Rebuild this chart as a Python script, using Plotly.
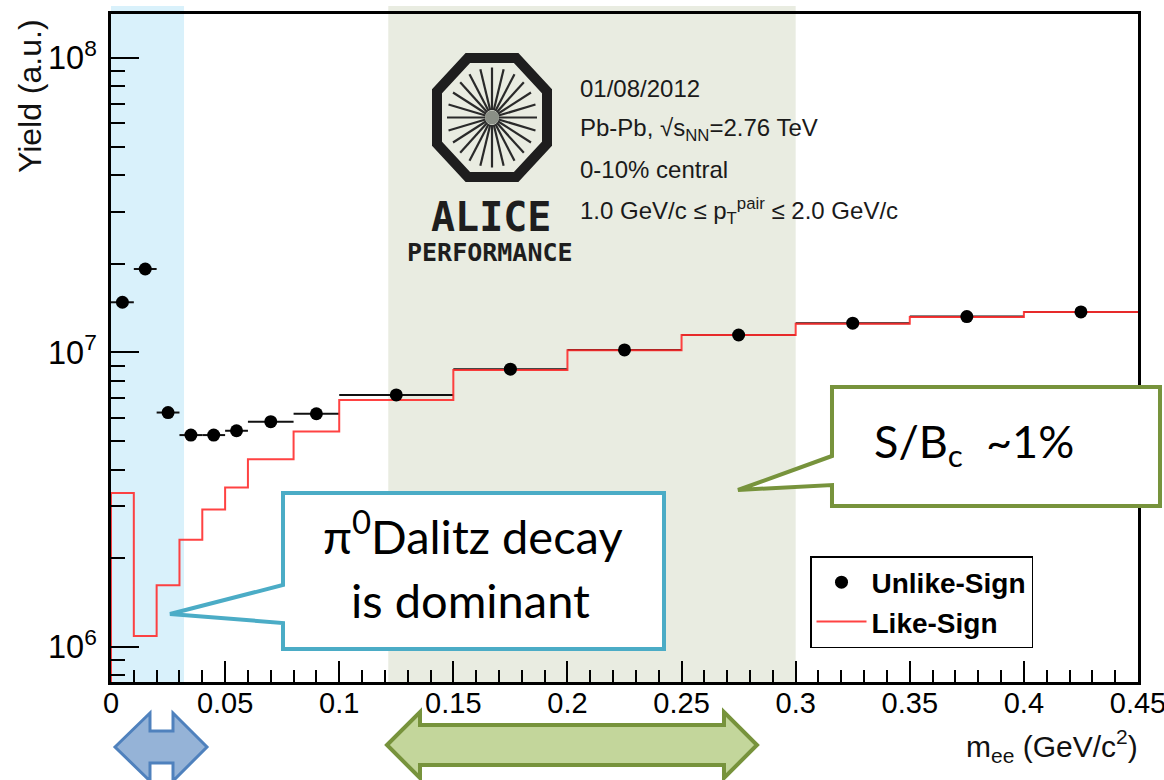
import math
import plotly.graph_objects as go

# ---- data -------------------------------------------------------------
bin_edges = [0, 0.01, 0.02, 0.03, 0.04, 0.05, 0.06, 0.08, 0.10,
             0.15, 0.20, 0.25, 0.30, 0.35, 0.40, 0.45]
like_sign = [3.33e6, 1.09e6, 1.62e6, 2.31e6, 2.93e6, 3.48e6, 4.34e6, 5.39e6,
             6.90e6, 8.72e6, 1.018e7, 1.146e7, 1.25e7, 1.32e7, 1.372e7]
unlike_sign = [1.48e7, 1.92e7, 6.25e6, 5.24e6, 5.24e6, 5.42e6, 5.82e6, 6.19e6,
               7.17e6, 8.77e6, 1.02e7, 1.146e7, 1.257e7, 1.323e7, 1.372e7]

y_log_range = [5.881, 8.149]
x_range = [0, 0.45]
x_tick_step = 0.05

info_lines = [
    "01/08/2012",
    "Pb-Pb, √s<sub>NN</sub>=2.76 TeV",
    "0-10% central",
    "1.0 GeV/c ≤ p<sub>T</sub><sup>pair</sup> ≤ 2.0 GeV/c",
]

# ---- canvas geometry --------------------------------------------------
W, H = 1164, 780
ML, MR, MT, MB = 111, 26, 14, 98
PW, PH = W - ML - MR, H - MT - MB


def px(xp):
    return (xp - ML) / PW


def py(yp):
    return (H - MB - yp) / PH


def poly(points):
    return "M " + " L ".join(f"{px(a):.5f},{py(b):.5f}" for a, b in points) + " Z"


centers = [(a + b) / 2 for a, b in zip(bin_edges[:-1], bin_edges[1:])]
half_w = [(b - a) / 2 for a, b in zip(bin_edges[:-1], bin_edges[1:])]
baseline = 10 ** y_log_range[0]

fig = go.Figure()

# horizontal bin-width bars of the unlike-sign points (drawn beneath the histogram)
fig.add_trace(go.Scatter(
    x=centers, y=unlike_sign, mode="markers",
    marker=dict(color="black", size=1, opacity=0),
    error_x=dict(type="data", array=half_w, color="#111", thickness=2, width=0),
    showlegend=False, hoverinfo="skip",
))

# Like-sign histogram as a step line (ROOT style, starting from the frame bottom)
fig.add_trace(go.Scatter(
    x=[bin_edges[0]] + bin_edges[:-1] + [bin_edges[-1]],
    y=[baseline] + like_sign + [like_sign[-1]],
    mode="lines", line=dict(color="rgba(255,45,45,0.9)", width=2, shape="hv"),
    name="Like-Sign",
))

# Unlike-sign points
fig.add_trace(go.Scatter(
    x=centers, y=unlike_sign, mode="markers",
    marker=dict(color="black", size=13),
    name="Unlike-Sign",
))

shapes = []
# highlighted mass windows
shapes.append(dict(type="rect", xref="x", yref="paper", x0=0, x1=0.032,
                   y0=0, y1=py(6), fillcolor="#d9f1fb", line=dict(width=0),
                   layer="below"))
shapes.append(dict(type="rect", xref="x", yref="paper", x0=0.1215, x1=0.30,
                   y0=0, y1=py(6), fillcolor="#e9ece1", line=dict(width=0),
                   layer="below"))

# ALICE logo: octagon with radial spokes
cx, cy, hw, hh = 492, 117.5, 55, 59.5
t = 0.44
octo = [(cx - hw * t, cy - hh), (cx + hw * t, cy - hh), (cx + hw, cy - hh * t),
        (cx + hw, cy + hh * t), (cx + hw * t, cy + hh), (cx - hw * t, cy + hh),
        (cx - hw, cy + hh * t), (cx - hw, cy - hh * t)]
shapes.append(dict(type="path", xref="paper", yref="paper", path=poly(octo),
                   line=dict(color="#1e1e1e", width=10), layer="above"))
for k in range(24):
    a = math.radians(15 * k)
    rx, ry = 45, 50
    x0, y0 = cx + 0.15 * rx * math.cos(a), cy + 0.15 * ry * math.sin(a)
    x1, y1 = cx + rx * math.cos(a), cy + ry * math.sin(a)
    shapes.append(dict(type="line", xref="paper", yref="paper",
                       x0=px(x0), y0=py(y0), x1=px(x1), y1=py(y1),
                       line=dict(color="#2a2a2a", width=2.2), layer="above"))
shapes.append(dict(type="circle", xref="paper", yref="paper",
                   x0=px(cx - 7), x1=px(cx + 7), y0=py(cy + 7), y1=py(cy - 7),
                   fillcolor="#8a8f86", line=dict(width=0), layer="above"))

# callouts
shapes.append(dict(type="path", xref="paper", yref="paper",
                   path=poly([(283, 493), (664, 493), (664, 649), (283, 649),
                              (283, 623), (170, 614), (283, 585)]),
                   fillcolor="white", line=dict(color="#4bacc6", width=4),
                   layer="above"))
shapes.append(dict(type="path", xref="paper", yref="paper",
                   path=poly([(832, 387), (1160, 387), (1160, 506), (832, 506),
                              (832, 485), (738, 490), (832, 456)]),
                   fillcolor="white", line=dict(color="#77933c", width=4),
                   layer="above"))

# double arrows under the axis
shapes.append(dict(type="path", xref="paper", yref="paper",
                   path=poly([(115, 747), (150, 713), (150, 731), (173, 731),
                              (173, 713), (207, 747), (173, 781), (173, 763),
                              (150, 763), (150, 781)]),
                   fillcolor="#95b3d7", line=dict(color="#4f81bd", width=3),
                   layer="above"))
shapes.append(dict(type="path", xref="paper", yref="paper",
                   path=poly([(387, 745), (420, 712), (420, 725), (724, 725),
                              (724, 712), (757, 745), (724, 778), (724, 765),
                              (420, 765), (420, 778)]),
                   fillcolor="#c3d69b", line=dict(color="#77933c", width=4),
                   layer="above"))

annotations = []
base_font = "Liberation Sans, Arial, sans-serif"
for i, line in enumerate(info_lines):
    annotations.append(dict(xref="paper", yref="paper", x=px(578), y=py(88 + 41 * i),
                            xanchor="left", yanchor="middle", showarrow=False,
                            text=line, font=dict(family=base_font, size=24, color="#1a1a1a")))
annotations.append(dict(xref="paper", yref="paper", x=px(491), y=py(217),
                        xanchor="center", yanchor="middle", showarrow=False,
                        text="<b>ALICE</b>",
                        font=dict(family="DejaVu Sans Mono", size=40, color="#1e1e1e")))
annotations.append(dict(xref="paper", yref="paper", x=px(490), y=py(253),
                        xanchor="center", yanchor="middle", showarrow=False,
                        text="<b>PERFORMANCE</b>",
                        font=dict(family="DejaVu Sans Mono", size=25, color="#1e1e1e")))

# axis titles
annotations.append(dict(xref="paper", yref="paper", x=px(30), y=py(17),
                        xanchor="center", yanchor="top", textangle=-90, showarrow=False,
                        text="Yield (a.u.)",
                        font=dict(family=base_font, size=32, color="#111")))
annotations.append(dict(xref="paper", yref="paper", x=px(1140), y=py(746),
                        xanchor="right", yanchor="middle", showarrow=False,
                        text="m<sub>ee</sub> (GeV/c<sup>2</sup>)",
                        font=dict(family=base_font, size=30, color="#111")))

# callout texts
callout_font = "Lato, Open Sans, sans-serif"
annotations.append(dict(xref="paper", yref="paper", x=px(473), y=py(533),
                        xanchor="center", yanchor="middle", showarrow=False,
                        text="π<sup>0</sup>Dalitz decay",
                        font=dict(family=callout_font, size=47, color="black")))
annotations.append(dict(xref="paper", yref="paper", x=px(470), y=py(600),
                        xanchor="center", yanchor="middle", showarrow=False,
                        text="is dominant",
                        font=dict(family=callout_font, size=47, color="black")))
annotations.append(dict(xref="paper", yref="paper", x=px(872), y=py(444),
                        xanchor="left", yanchor="middle", showarrow=False,
                        text="S/B<sub>c</sub>  ~1%",
                        font=dict(family=callout_font, size=45, color="black")))

fig.update_layout(
    width=W, height=H,
    margin=dict(l=ML, r=MR, t=MT, b=MB, pad=0, autoexpand=False),
    paper_bgcolor="white", plot_bgcolor="rgba(0,0,0,0)",
    shapes=shapes, annotations=annotations,
    showlegend=True,
    legend=dict(x=px(810), y=py(556), xanchor="left", yanchor="top",
                bgcolor="white", bordercolor="black", borderwidth=1.5,
                traceorder="reversed", itemwidth=50,
                font=dict(family=base_font, size=28, color="black", weight="bold")),
    font=dict(family=base_font, color="black"),
)

fig.update_xaxes(
    range=x_range, dtick=x_tick_step, tick0=0, automargin=False,
    showline=True, linecolor="black", linewidth=3, mirror=True,
    ticks="inside", ticklen=21, tickwidth=2, tickcolor="black",
    minor=dict(dtick=0.01, ticks="inside", ticklen=12, tickwidth=2, tickcolor="black"),
    showgrid=False, zeroline=False,
    tickfont=dict(family=base_font, size=29, color="black"),
    ticklabelstandoff=-7, ticklabeloverflow="allow",
)
fig.update_yaxes(
    type="log", range=y_log_range, dtick=1, exponentformat="power", automargin=False,
    showline=True, linecolor="black", linewidth=3, mirror=True,
    ticks="inside", ticklen=28, tickwidth=2, tickcolor="black",
    minor=dict(dtick="D1", ticks="inside", ticklen=14, tickwidth=2, tickcolor="black"),
    showgrid=False, zeroline=False,
    tickfont=dict(family=base_font, size=26, color="black"),
    ticklabelstandoff=6,
)

fig.write_html("out.html")
